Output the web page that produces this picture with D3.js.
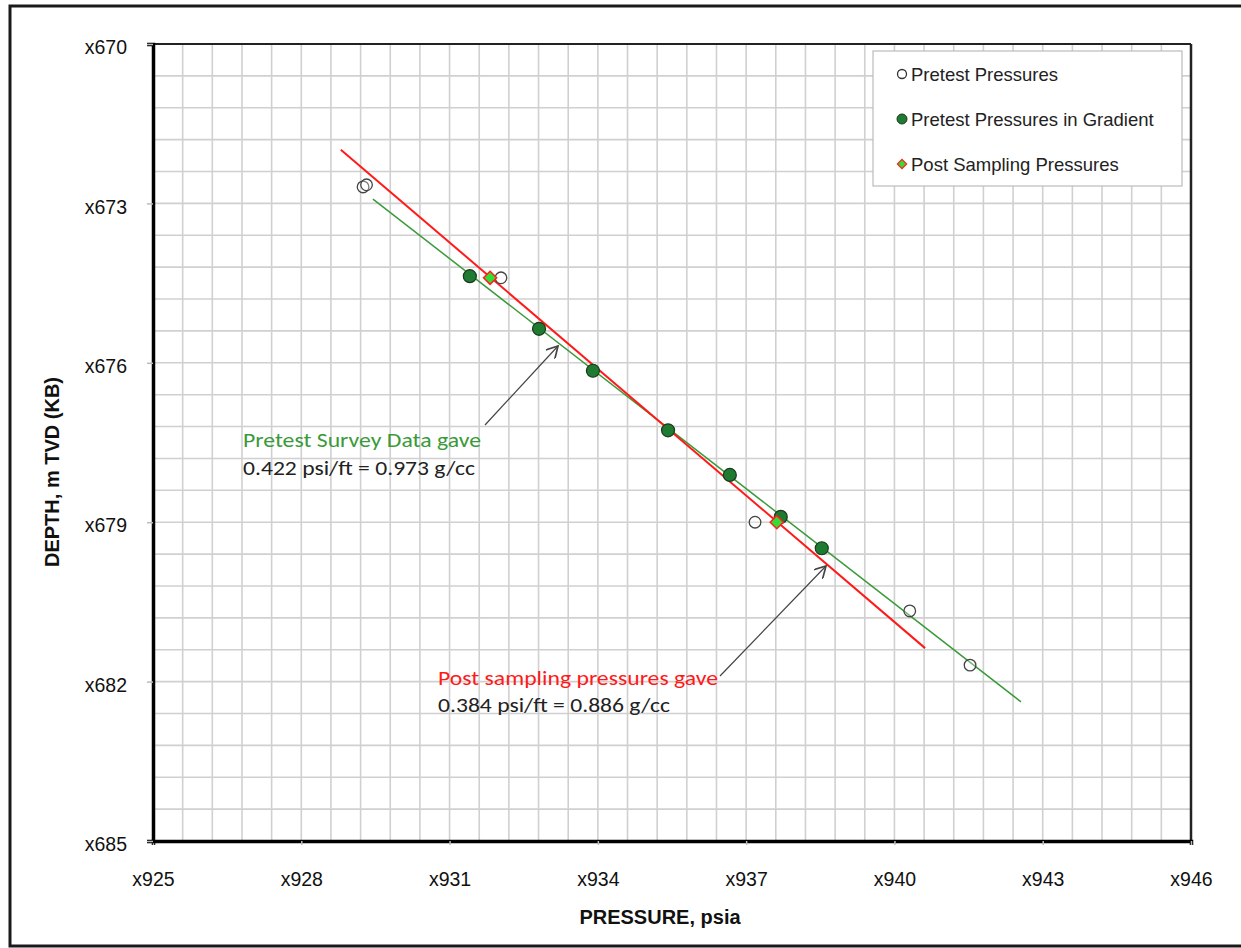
<!DOCTYPE html>
<html><head><meta charset="utf-8">
<script src="https://cdn.jsdelivr.net/npm/d3@7"></script>
<style>body{margin:0;background:#fff}svg{display:block}</style>
</head><body>
<script>
// ---- data ----
const pretestP = [929.25, 929.32, 932.04, 937.18, 940.31, 941.53];
const pretestD = [672.69, 672.65, 674.40, 679.00, 680.67, 681.69];
const gradP = [931.41, 932.81, 933.90, 935.42, 936.67, 937.70, 938.53];
const gradD = [674.37, 675.36, 676.15, 677.27, 678.11, 678.90, 679.49];
const postP = [931.82, 937.62];
const postD = [674.40, 679.00];
const redLineP = [928.80, 940.62];
const redLineD = [671.99, 681.37];
const greenLineP = [929.45, 942.56];
const greenLineD = [672.92, 682.38];
const xTicks = [925, 928, 931, 934, 937, 940, 943, 946];
const yTicks = [670, 673, 676, 679, 682, 685];
const legendLabels = ["Pretest Pressures", "Pretest Pressures in Gradient", "Post Sampling Pressures"];

const W = 1241, H = 948;
const L = 153, R = 1191, T = 44, B = 841;
const svg = d3.select("body").append("svg").attr("width", W).attr("height", H);
const arial = "Liberation Sans, Arial, sans-serif";

// outer frame
svg.append("rect").attr("x", 10).attr("y", 6).attr("width", 1260).attr("height", 940)
  .attr("fill", "none").attr("stroke", "#1a1a1a").attr("stroke-width", 3);

const x = d3.scaleLinear().domain([925, 946]).range([L, R]);
const y = d3.scaleLinear().domain([670, 685]).range([T, B]);

// grid
const gx = d3.range(0, 36).map(i => 925 + i * 0.6);
const gy = d3.range(0, 26).map(i => 670 + i * 0.6);
const grid = svg.append("g");
grid.selectAll("line.v").data(gx).join("line")
  .attr("x1", d => x(d)).attr("x2", d => x(d)).attr("y1", T).attr("y2", B)
  .attr("stroke", "#d0d0d0").attr("stroke-width", 1.6);
grid.selectAll("line.h").data(gy).join("line")
  .attr("x1", L).attr("x2", R).attr("y1", d => y(d)).attr("y2", d => y(d))
  .attr("stroke", "#d0d0d0").attr("stroke-width", 1.6);

// plot borders
svg.append("line").attr("x1", L).attr("x2", R).attr("y1", T).attr("y2", T).attr("stroke", "#222").attr("stroke-width", 2);
svg.append("line").attr("x1", R).attr("x2", R).attr("y1", T).attr("y2", B).attr("stroke", "#222").attr("stroke-width", 2.5);

// axes
const xAxis = svg.append("g").attr("transform", `translate(0,${B})`)
  .call(d3.axisBottom(x).tickValues(xTicks).tickFormat(d => "x" + d).tickSize(4).tickPadding(27));
const yAxis = svg.append("g").attr("transform", `translate(${L},0)`)
  .call(d3.axisLeft(y).tickValues(yTicks).tickFormat(d => "x" + d).tickSize(6).tickPadding(20));
[xAxis, yAxis].forEach(a => {
  a.select(".domain").attr("stroke", "#000").attr("stroke-width", 3.5);
  a.selectAll(".tick line").attr("stroke", "#bbb").attr("stroke-width", 1.5);
  a.selectAll("text").attr("font-family", arial).attr("font-size", 19.5).attr("fill", "#111");
});
yAxis.selectAll(".tick text").attr("dy", "0.5em");

// axis titles
svg.append("text").attr("x", 660).attr("y", 924).attr("text-anchor", "middle")
  .attr("font-family", arial).attr("font-weight", "bold").attr("font-size", 20)
  .attr("fill", "#111").text("PRESSURE, psia");
svg.append("text").attr("transform", "translate(59,472) rotate(-90)").attr("text-anchor", "middle")
  .attr("font-family", arial).attr("font-weight", "bold").attr("font-size", 20)
  .attr("fill", "#111").text("DEPTH, m TVD (KB)");

// trend lines
const line = d3.line().x(d => x(d[0])).y(d => y(d[1]));
svg.append("path").datum(d3.zip(greenLineP, greenLineD)).attr("d", line)
  .attr("stroke", "#3a9a3a").attr("stroke-width", 1.5).attr("fill", "none");
svg.append("path").datum(d3.zip(redLineP, redLineD)).attr("d", line)
  .attr("stroke", "#ff1a1a").attr("stroke-width", 2).attr("fill", "none");

// pretest open circles
svg.selectAll("circle.pre").data(d3.zip(pretestP, pretestD)).join("circle")
  .attr("cx", d => x(d[0])).attr("cy", d => y(d[1])).attr("r", 5.8)
  .attr("fill", "#fff").attr("fill-opacity", 0.3).attr("stroke", "#444").attr("stroke-width", 1.3);

// gradient filled circles
svg.selectAll("circle.grad").data(d3.zip(gradP, gradD)).join("circle")
  .attr("cx", d => x(d[0])).attr("cy", d => y(d[1])).attr("r", 6.5)
  .attr("fill", "#1f7a32").attr("stroke", "#1a3a1a").attr("stroke-width", 1.2);

// post sampling diamonds
const diamond = d3.symbol().type(d3.symbolDiamond2).size(110);
svg.selectAll("path.post").data(d3.zip(postP, postD)).join("path")
  .attr("d", diamond).attr("transform", d => `translate(${x(d[0])},${y(d[1])})`)
  .attr("fill", "#33dd33").attr("stroke", "#ff2020").attr("stroke-width", 1.5);

// annotations
const arrowDefs = svg.append("defs");
arrowDefs.append("marker").attr("id", "arr").attr("viewBox", "0 0 10 10").attr("refX", 9).attr("refY", 5)
  .attr("markerWidth", 13).attr("markerHeight", 13).attr("orient", "auto").attr("markerUnits", "userSpaceOnUse")
  .append("path").attr("d", "M0,0 L9,5 L0,10").attr("fill", "none").attr("stroke", "#444").attr("stroke-width", 1.3);

const annFont = "Carlito, 'Open Sans', Lato, sans-serif";
function ann(xp, yp, txt, col, len) {
  svg.append("text").attr("x", xp).attr("y", yp).attr("font-family", annFont).attr("font-size", 21)
    .attr("fill", col).attr("textLength", len).attr("lengthAdjust", "spacingAndGlyphs").text(txt);
}
svg.append("line").attr("x1", 485).attr("y1", 425).attr("x2", 558).attr("y2", 346)
  .attr("stroke", "#444").attr("stroke-width", 1.2).attr("marker-end", "url(#arr)");
ann(243, 447, "Pretest Survey Data gave", "#3a9a3a", 238);
ann(243, 475, "0.422 psi/ft = 0.973 g/cc", "#222", 232);

svg.append("line").attr("x1", 720).attr("y1", 676).attr("x2", 826).attr("y2", 566)
  .attr("stroke", "#444").attr("stroke-width", 1.2).attr("marker-end", "url(#arr)");
ann(438, 685, "Post sampling pressures gave", "#ff1a1a", 280);
ann(438, 712, "0.384 psi/ft = 0.886 g/cc", "#222", 232);

// legend
const lg = svg.append("g");
lg.append("rect").attr("x", 873).attr("y", 51).attr("width", 309).attr("height", 135)
  .attr("fill", "#fff").attr("stroke", "#bbb").attr("stroke-width", 1.2);
const ly = [74, 119, 164];
lg.append("circle").attr("cx", 902).attr("cy", ly[0]).attr("r", 4.5).attr("fill", "#fff").attr("stroke", "#333").attr("stroke-width", 1.3);
lg.append("circle").attr("cx", 902).attr("cy", ly[1]).attr("r", 5).attr("fill", "#1f7a32").attr("stroke", "#1a3a1a").attr("stroke-width", 1);
lg.append("path").attr("d", d3.symbol().type(d3.symbolDiamond2).size(55))
  .attr("transform", `translate(902,${ly[2]})`).attr("fill", "#33dd33").attr("stroke", "#ff2020").attr("stroke-width", 1.2);
lg.selectAll("text").data(legendLabels).join("text")
  .attr("x", 911).attr("y", (d, i) => ly[i] + 7)
  .attr("font-family", arial).attr("font-size", 18.5).attr("fill", "#222").text(d => d);
</script>
</body></html>
